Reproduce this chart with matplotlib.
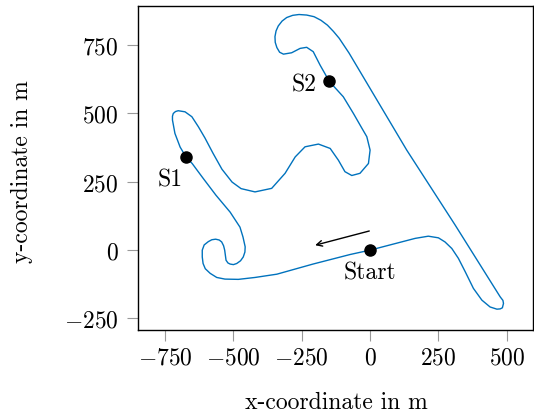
import matplotlib
matplotlib.use('Agg')
import matplotlib.pyplot as plt

# Race track centre line in metres, starting at the start line and
# following the driving direction (towards negative x first).
track_x = [0, -73, -209, -341, -421, -482, -531, -561, -585, -603,
           -611, -614, -614, -607, -592, -579, -565, -552, -543, -536,
           -532, -527, -520, -512, -500, -488, -474, -464, -458, -457,
           -465, -476, -512, -564, -611, -651, -673, -695, -714, -723,
           -723, -720, -712, -702, -677, -652, -628, -604, -575, -542,
           -505, -472, -421, -360, -311, -274, -238, -189, -146, -116,
           -92, -67, -37, -6, 0, -12, -30, -61, -98, -149,
           -183, -208, -232, -256, -287, -317, -331, -341, -347, -348,
           -344, -336, -322, -305, -283, -260, -232, -205, -180, -156,
           -134, -113, -95, -77, 134, 311, 476, 486, 488, 484,
           476, 464, 439, 409, 378, 348, 323, 299, 274, 250,
           213, 165]
track_y = [0, -16, -51, -88, -100, -107, -106, -100, -85, -68,
           -49, -25, 0, 19, 31, 38, 40, 37, 30, 16,
           0, -37, -47, -51, -53, -49, -39, -25, -7, 12,
           48, 84, 139, 201, 263, 317, 340, 377, 427, 476,
           490, 500, 507, 510, 506, 488, 451, 410, 355, 296,
           249, 225, 213, 226, 281, 341, 378, 388, 372, 329,
           287, 273, 281, 317, 366, 415, 446, 500, 561, 617,
           677, 726, 742, 738, 722, 717, 724, 741, 760, 781,
           802, 820, 838, 851, 859, 862, 860, 854, 841, 823,
           800, 775, 748, 721, 366, 92, -171, -184, -195, -211,
           -215, -216, -208, -183, -140, -79, -30, 6, 30, 45,
           51, 43]

# Named positions on the track
point_names = ['Start', 'S1', 'S2']
point_x = [0, -673, -149]
point_y = [0, 340, 617]

x_ticks = [-750, -500, -250, 0, 250, 500]
y_ticks = [-250, 0, 250, 500, 750]

plt.rcParams['mathtext.fontset'] = 'cm'
text_font = 'cmr10'
font_size = 17

fig = plt.figure(figsize=(5.34, 4.19), dpi=100)
ax = fig.add_axes([138.3 / 534, 1 - 330 / 419,
                   (533 - 138.3) / 534, (330 - 5.7) / 419])

ax.plot(track_x + track_x[:1], track_y + track_y[:1],
        color='#0072BD', linewidth=1.0, solid_joinstyle='round')
ax.plot(point_x, point_y, 'o', color='black', markersize=8)

# Labels next to the named points (offsets in pixels)
offsets = {'Start': (0, -29, 'center'),
           'S1': (-3, -29, 'right'),
           'S2': (-13, -10, 'right')}
for name, px, py in zip(point_names, point_x, point_y):
    dx, dy, ha = offsets[name]
    ax.annotate(name, xy=(px, py), xytext=(dx, dy),
                textcoords='offset pixels', ha=ha, va='baseline',
                fontfamily=text_font, fontsize=font_size)

# Driving direction
ax.annotate('', xy=(-201, 18), xytext=(-3, 70),
            arrowprops=dict(arrowstyle='->', color='black', lw=1.0,
                            shrinkA=0, shrinkB=0))

ax.set_xlim(-848, 596)
ax.set_ylim(-292, 894)
ax.set_aspect('equal', adjustable='box')

ax.set_xticks(x_ticks)
ax.set_yticks(y_ticks)
ax.set_xticklabels([r'$%d$' % v for v in x_ticks], fontsize=font_size)
ax.set_yticklabels([r'$%d$' % v for v in y_ticks], fontsize=font_size)
ax.tick_params(direction='out', length=8, width=0.8, color='#999999')
ax.tick_params(axis='x', pad=3)
ax.tick_params(axis='y', pad=6)

for spine in ax.spines.values():
    spine.set_linewidth(1.0)
    spine.set_color('black')

ax.set_xlabel('x-coordinate in m', fontfamily=text_font,
              fontsize=font_size)
ax.set_ylabel('y-coordinate in m', fontfamily=text_font,
              fontsize=font_size)
ax.xaxis.set_label_coords(0.501, -0.19)
ax.yaxis.set_label_coords(-0.267, 0.487)

fig.savefig('out.png', dpi=100)
